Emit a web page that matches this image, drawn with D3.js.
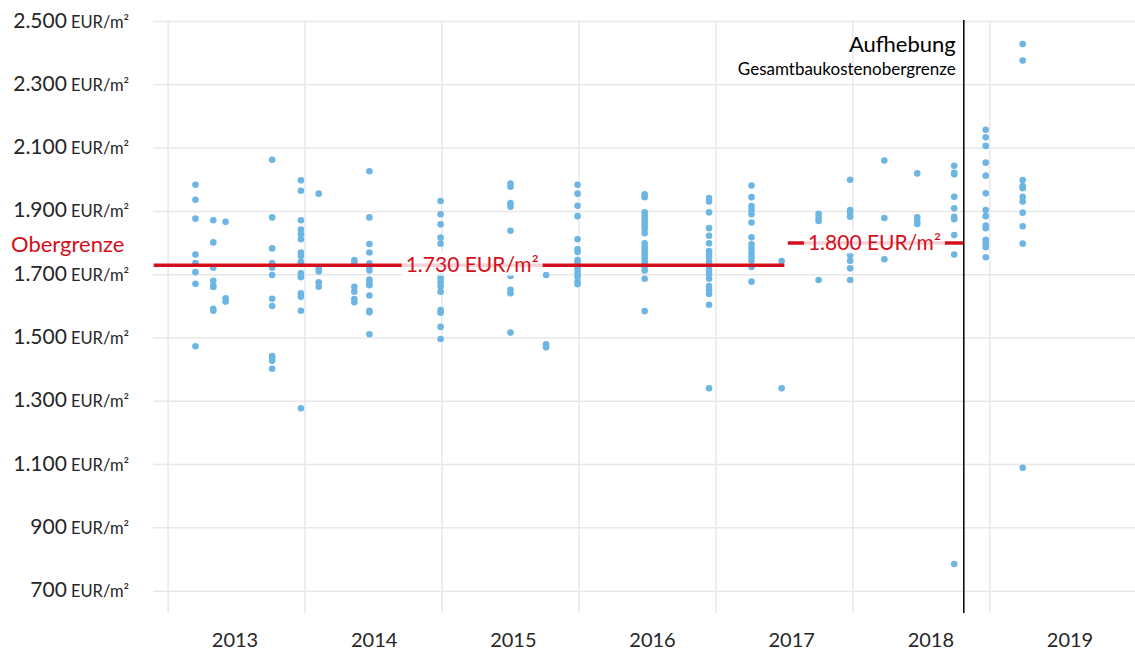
<!DOCTYPE html>
<html>
<head>
<meta charset="utf-8">
<script src="https://cdn.jsdelivr.net/npm/d3@7"></script>
<style>
  html, body { margin: 0; padding: 0; background: #fff; }
  svg { display: block; font-family: Lato, "Open Sans", sans-serif; }
</style>
</head>
<body>
<svg id="chart" width="1135" height="653"></svg>
<script>
// ---- data ----
const years = [2013, 2014, 2015, 2016, 2017, 2018, 2019];
const yTicks = [700, 900, 1100, 1300, 1500, 1700, 1900, 2100, 2300, 2500];
const gridYears = [2013, 2014, 2015, 2016, 2017, 2018, 2019];
// decimal-year position of each survey column
const dates = [2013.20, 2013.33, 2013.42, 2013.76, 2013.97, 2014.10, 2014.36, 2014.47, 2014.99,
  2015.50, 2015.76, 2015.99, 2016.48, 2016.95, 2017.26, 2017.48, 2017.75, 2017.98,
  2018.23, 2018.47, 2018.74, 2018.97, 2019.24];
// costs (EUR/m²) per column
const values = [
  [1984, 1937, 1877, 1764, 1737, 1708, 1671, 1474],
  [1872, 1802, 1722, 1681, 1665, 1661, 1592, 1586],
  [1867, 1625, 1615],
  [2063, 1881, 1783, 1737, 1722, 1699, 1624, 1601, 1443, 1436, 1428, 1403],
  [1998, 1965, 1872, 1843, 1828, 1812, 1770, 1759, 1741, 1734, 1704, 1696, 1692, 1641, 1630, 1586, 1278],
  [1956, 1719, 1710, 1676, 1662],
  [1746, 1738, 1662, 1646, 1623, 1613],
  [2027, 1881, 1797, 1770, 1736, 1725, 1713, 1685, 1675, 1667, 1634, 1586, 1581, 1512],
  [1933, 1891, 1859, 1817, 1798, 1699, 1689, 1676, 1663, 1646, 1588, 1580, 1535, 1497],
  [1988, 1978, 1926, 1915, 1839, 1696, 1652, 1641, 1517],
  [1699, 1480, 1471],
  [1984, 1956, 1918, 1885, 1812, 1780, 1772, 1746, 1739, 1725, 1715, 1704, 1694, 1678, 1670],
  [1954, 1945, 1897, 1886, 1876, 1866, 1855, 1844, 1831, 1799, 1788, 1778, 1767, 1757, 1746, 1736, 1725, 1713, 1687, 1585],
  [1942, 1931, 1897, 1847, 1823, 1799, 1775, 1765, 1755, 1741, 1728, 1715, 1702, 1687, 1664, 1652, 1639, 1605, 1341],
  [1982, 1945, 1917, 1904, 1891, 1865, 1818, 1796, 1783, 1770, 1757, 1744, 1724, 1678],
  [1743, 1341],
  [1892, 1881, 1870, 1683],
  [2000, 1904, 1896, 1883, 1790, 1762, 1744, 1720, 1683],
  [2061, 1879, 1749],
  [2020, 1881, 1867, 1860],
  [2044, 2022, 2017, 1946, 1910, 1883, 1875, 1825, 1764, 786],
  [2158, 2134, 2107, 2054, 2013, 1957, 1904, 1885, 1855, 1847, 1810, 1799, 1787, 1755],
  [2429, 2377, 1999, 1980, 1973, 1946, 1931, 1896, 1853, 1798, 1090]
];
// cost caps
const caps = [
  { value: 1730, from: 2012.895, to: 2017.50, label: "1.730 EUR/m²", labelAt: 2014.735 },
  { value: 1800, from: 2017.525, to: 2018.81, label: "1.800 EUR/m²", labelAt: 2017.672 }
];
const abolitionDate = 2018.81;

// ---- drawing ----
const svg = d3.select("#chart");
const W = 1135;
const x = d3.scaleLinear().domain([2012.89, 2020.06]).range([153, 1135]);
const y = d3.scaleLinear().domain([631, 2500]).range([613, 21.5]);
const xLab = d3.scalePoint().domain(years).range([235, 1070]);

const grid = svg.append("g");
grid.selectAll("line.h").data(yTicks).join("line")
  .attr("x1", x(2012.89)).attr("x2", W)
  .attr("y1", d => y(d)).attr("y2", d => y(d))
  .attr("stroke", "#e8e8e8").attr("stroke-width", 1.5);
grid.selectAll("line.v").data(gridYears).join("line")
  .attr("x1", d => x(d)).attr("x2", d => x(d))
  .attr("y1", y(2500)).attr("y2", y(631))
  .attr("stroke", "#e8e8e8").attr("stroke-width", 1.5);

// y axis labels
const yl = svg.append("g").selectAll("text").data(yTicks).join("text")
  .attr("x", 129).attr("y", d => y(d) + 6)
  .attr("text-anchor", "end").attr("fill", "#262626");
yl.append("tspan").attr("font-size", 21).text(d => d3.format(",")(d).replace(/,/g, "."));
yl.append("tspan").attr("font-size", 16.5).attr("dx", 4).text("EUR/m²");

// x axis labels
svg.append("g").selectAll("text").data(years).join("text")
  .attr("x", d => xLab(d)).attr("y", 647)
  .attr("text-anchor", "middle").attr("font-size", 20).attr("fill", "#262626")
  .text(d => d);

// points
const pts = [];
dates.forEach((dt, i) => values[i].forEach(v => pts.push({ dt, v })));
svg.append("g").selectAll("circle").data(pts).join("circle")
  .attr("cx", d => x(d.dt)).attr("cy", d => y(d.v)).attr("r", 3.3)
  .attr("fill", "#6db6e3");

// caps
const red = "#d40f1b";
const lineG = svg.append("g"), boxG = svg.append("g"), textG = svg.append("g");
caps.forEach(c => {
  lineG.append("line")
    .attr("x1", x(c.from)).attr("x2", x(c.to))
    .attr("y1", y(c.value)).attr("y2", y(c.value))
    .attr("stroke", red).attr("stroke-width", 3.5);
  const t = textG.append("text")
    .attr("x", x(c.labelAt)).attr("y", y(c.value) + 6.5)
    .attr("font-size", 21).attr("fill", red).text(c.label);
  const bb = t.node().getBBox();
  boxG.append("rect")
    .attr("x", bb.x - 4).attr("y", bb.y + 2).attr("width", bb.width + 8).attr("height", bb.height - 2)
    .attr("fill", "#fff").attr("fill-opacity", 0.82);
});
svg.append("text").attr("x", 11).attr("y", 252).attr("font-size", 22)
  .attr("fill", red).text("Obergrenze");

// abolition line
svg.append("line")
  .attr("x1", x(abolitionDate)).attr("x2", x(abolitionDate))
  .attr("y1", 20).attr("y2", y(631))
  .attr("stroke", "#000").attr("stroke-width", 1.5);
svg.append("text").attr("x", x(abolitionDate) - 8).attr("y", 52)
  .attr("text-anchor", "end").attr("font-size", 22).attr("fill", "#000").text("Aufhebung");
svg.append("text").attr("x", x(abolitionDate) - 8).attr("y", 75)
  .attr("text-anchor", "end").attr("font-size", 17).attr("fill", "#000").text("Gesamtbaukostenobergrenze");
</script>
</body>
</html>
